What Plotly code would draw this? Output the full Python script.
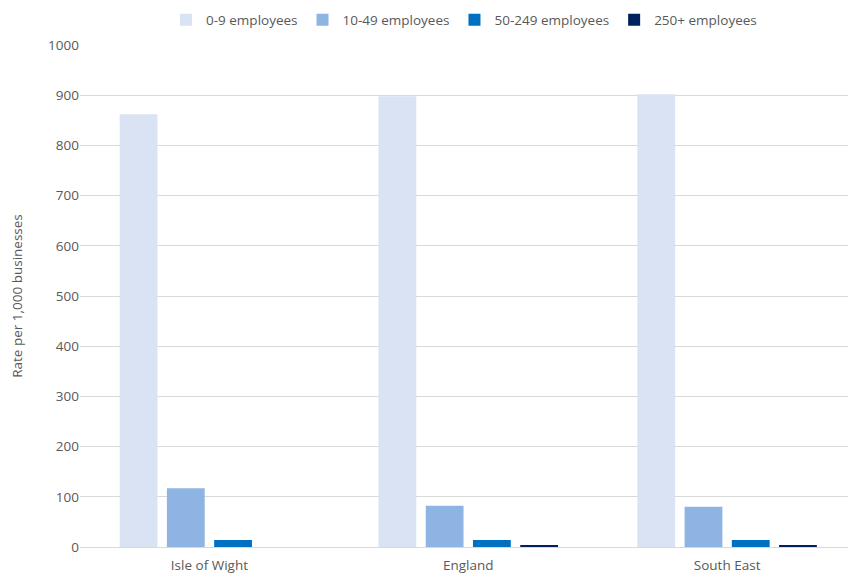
import plotly.graph_objects as go

categories = ["Isle of Wight", "England", "South East"]
series_names = ["0-9 employees", "10-49 employees", "50-249 employees", "250+ employees"]
v_0_9 = [862, 898, 902]
v_10_49 = [117, 82, 80]
v_50_249 = [14, 14, 14]
v_250 = [None, 4, 4]
colors = ["#dae3f3", "#8eb4e3", "#0070c0", "#002060"]

fig = go.Figure()
for name, vals, col in zip(series_names, [v_0_9, v_10_49, v_50_249, v_250], colors):
    fig.add_trace(go.Bar(x=categories, y=vals, name=name,
                         marker=dict(color=col, line=dict(width=0))))

font_family = "Open Sans, Noto Sans, sans-serif"
fig.update_layout(
    width=848, height=577,
    margin=dict(l=80, r=0, t=45, b=30),
    paper_bgcolor="white", plot_bgcolor="white",
    barmode="group", bargap=0.27, bargroupgap=0.2,
    font=dict(family=font_family, size=13, color="#595959"),
    legend=dict(orientation="h", x=0.5, xanchor="center",
                yref="container", y=1 - 20 / 577, yanchor="middle",
                font=dict(size=13.5, color="#595959"), itemwidth=30,
                traceorder="normal"),
    xaxis=dict(type="category", range=[-0.5, 2.467], showgrid=False,
               showline=True, linecolor="#d9d9d9", linewidth=1,
               ticks="", ticklabelstandoff=6,
               tickfont=dict(size=13.5, color="#595959")),
    yaxis=dict(range=[0, 1000], dtick=100, showgrid=True, gridcolor="#d9d9d9",
               gridwidth=1, zeroline=False, showline=False,
               ticks="", tickfont=dict(size=13.5, color="#595959"),
               title=dict(text="Rate per 1,000 businesses", font=dict(size=13.5, color="#595959"),
                          standoff=22)),
)
fig.write_html("out.html")
